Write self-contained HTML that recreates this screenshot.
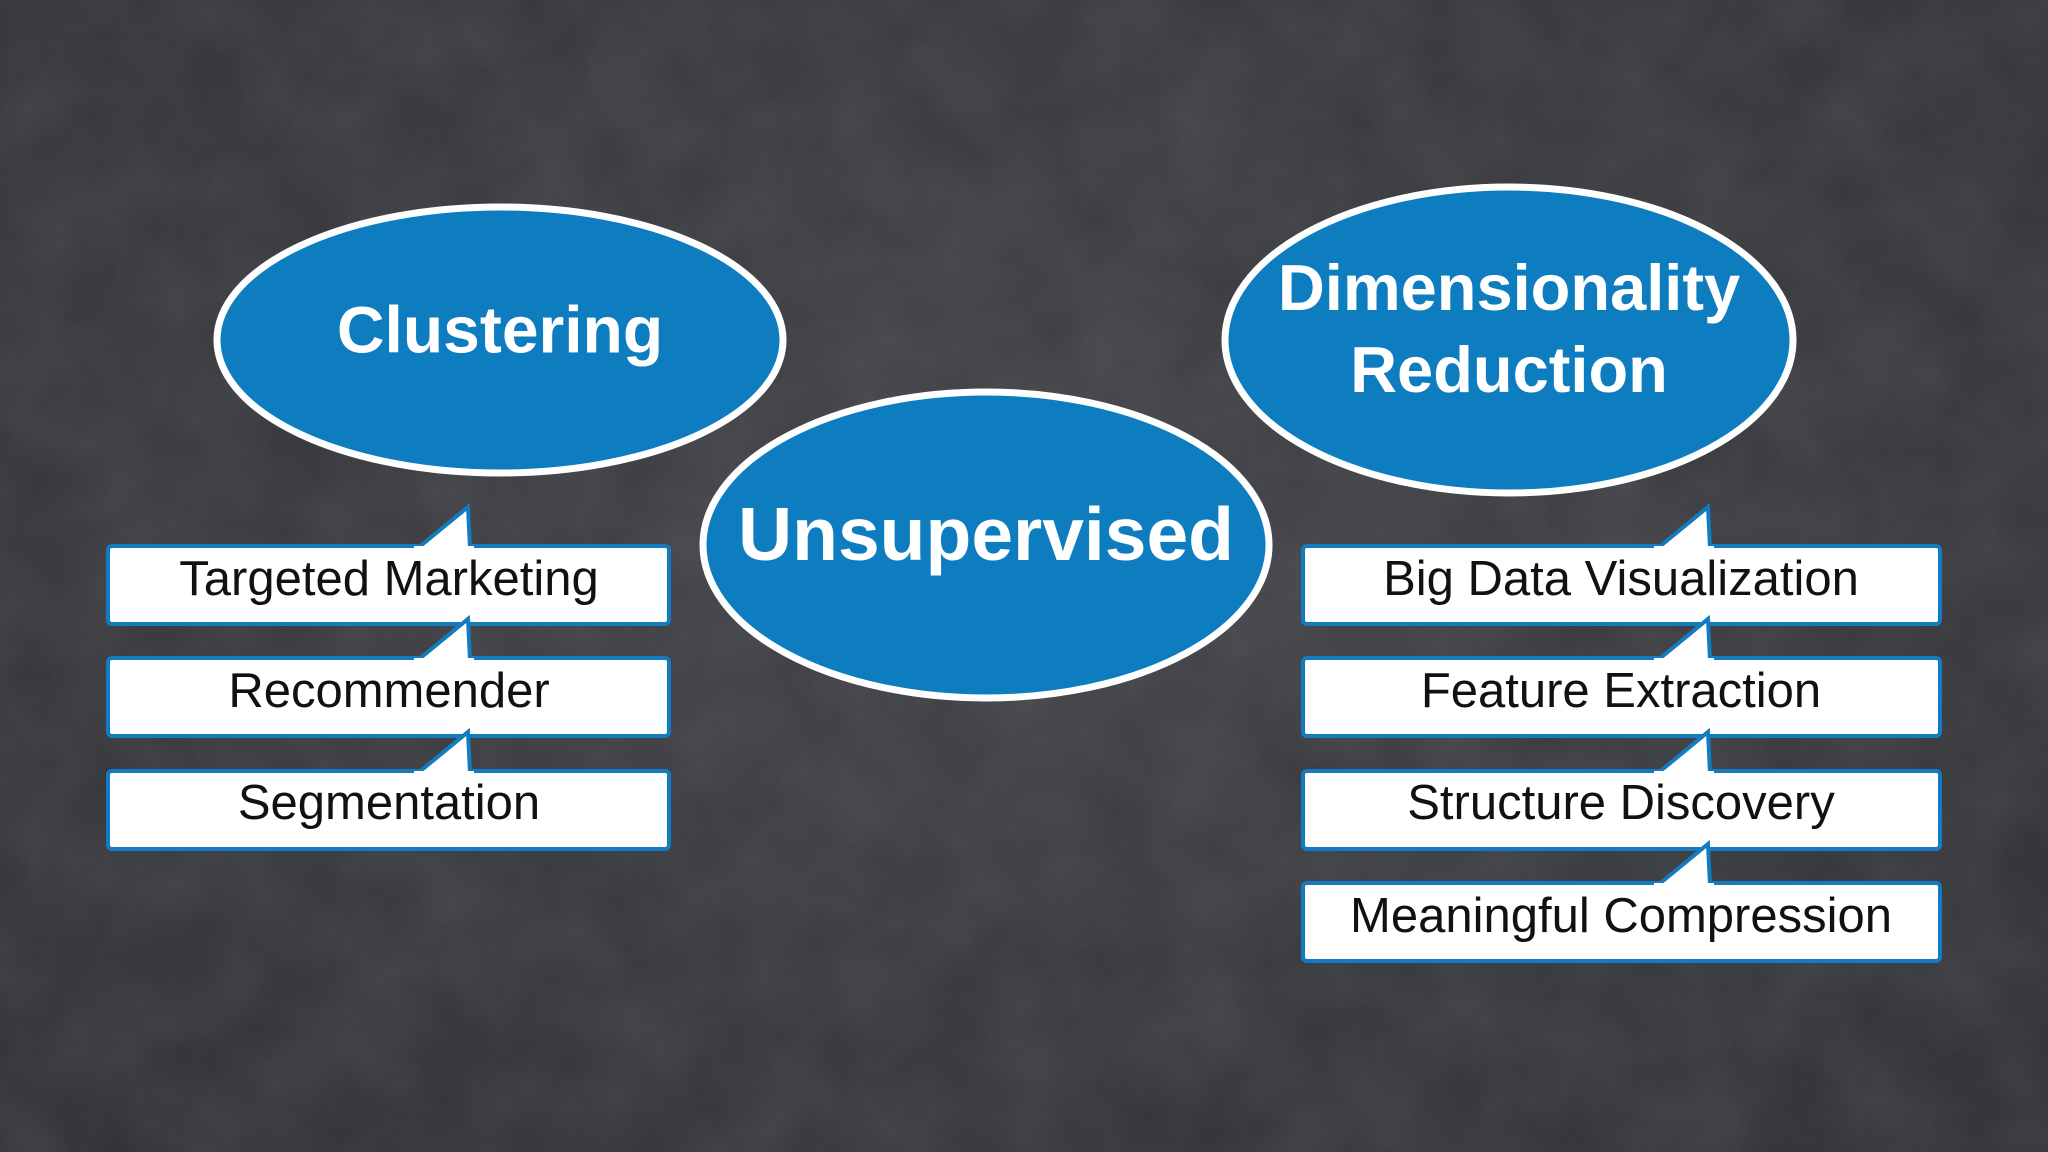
<!DOCTYPE html>
<html><head><meta charset="utf-8"><style>
html,body{margin:0;padding:0;width:2048px;height:1152px;overflow:hidden;background:#38393d}
svg{display:block}
text{font-family:"Liberation Sans",sans-serif}
</style></head><body>
<svg width="2048" height="1152" viewBox="0 0 2048 1152" xmlns="http://www.w3.org/2000/svg">
<defs>
<radialGradient id="bg" cx="50%" cy="45%" r="75%">
<stop offset="0" stop-color="#414246"/><stop offset="1" stop-color="#2e2f33"/>
</radialGradient>
<filter id="n"><feTurbulence type="fractalNoise" baseFrequency="0.012" numOctaves="4" seed="3"/><feColorMatrix values="0 0 0 0 0.45 0 0 0 0 0.45 0 0 0 0 0.47 0 0 0 0.15 0"/></filter>
</defs>
<rect width="2048" height="1152" fill="url(#bg)"/>
<rect width="2048" height="1152" filter="url(#n)"/>

<ellipse cx="500" cy="340" rx="283" ry="133" fill="#0e7dc0" stroke="#fff" stroke-width="7"/>
<ellipse cx="1509" cy="340" rx="284" ry="153" fill="#0e7dc0" stroke="#fff" stroke-width="7"/>
<ellipse cx="986" cy="545" rx="283" ry="153" fill="#0e7dc0" stroke="#fff" stroke-width="7"/>
<text x="500" y="335" font-size="66" font-weight="bold" fill="#fff" text-anchor="middle" dominant-baseline="middle">Clustering</text>
<text x="1509" y="293" font-size="65" font-weight="bold" fill="#fff" text-anchor="middle" dominant-baseline="middle">Dimensionality</text>
<text x="1509" y="375" font-size="65" font-weight="bold" fill="#fff" text-anchor="middle" dominant-baseline="middle">Reduction</text>
<text x="986" y="540" font-size="75" font-weight="bold" fill="#fff" text-anchor="middle" dominant-baseline="middle">Unsupervised</text>

<g font-size="49" text-anchor="middle" fill="#111">
<g>
<rect x="108" y="546" width="561" height="78" rx="4" fill="#fff" stroke="#137bbf" stroke-width="4"/>
<path d="M418 548 L468 507 L470 548" fill="#fff" stroke="#137bbf" stroke-width="4"/><rect x="414" y="546" width="60" height="6" fill="#fff"/>
<text x="389" y="595">Targeted Marketing</text>
<rect x="108" y="658" width="561" height="78" rx="4" fill="#fff" stroke="#137bbf" stroke-width="4"/>
<path d="M418 660 L468 619 L470 660" fill="#fff" stroke="#137bbf" stroke-width="4"/><rect x="414" y="658" width="60" height="6" fill="#fff"/>
<text x="389" y="707">Recommender</text>
<rect x="108" y="771" width="561" height="78" rx="4" fill="#fff" stroke="#137bbf" stroke-width="4"/>
<path d="M418 773 L468 732 L470 773" fill="#fff" stroke="#137bbf" stroke-width="4"/><rect x="414" y="771" width="60" height="6" fill="#fff"/>
<text x="389" y="819">Segmentation</text>
</g>
<g>
<rect x="1303" y="546" width="637" height="78" rx="4" fill="#fff" stroke="#137bbf" stroke-width="4"/>
<path d="M1658 548 L1708 507 L1710 548" fill="#fff" stroke="#137bbf" stroke-width="4"/><rect x="1654" y="546" width="60" height="6" fill="#fff"/>
<text x="1621" y="595">Big Data Visualization</text>
<rect x="1303" y="658" width="637" height="78" rx="4" fill="#fff" stroke="#137bbf" stroke-width="4"/>
<path d="M1658 660 L1708 619 L1710 660" fill="#fff" stroke="#137bbf" stroke-width="4"/><rect x="1654" y="658" width="60" height="6" fill="#fff"/>
<text x="1621" y="707">Feature Extraction</text>
<rect x="1303" y="771" width="637" height="78" rx="4" fill="#fff" stroke="#137bbf" stroke-width="4"/>
<path d="M1658 773 L1708 732 L1710 773" fill="#fff" stroke="#137bbf" stroke-width="4"/><rect x="1654" y="771" width="60" height="6" fill="#fff"/>
<text x="1621" y="819">Structure Discovery</text>
<rect x="1303" y="883" width="637" height="78" rx="4" fill="#fff" stroke="#137bbf" stroke-width="4"/>
<path d="M1658 885 L1708 844 L1710 885" fill="#fff" stroke="#137bbf" stroke-width="4"/><rect x="1654" y="883" width="60" height="6" fill="#fff"/>
<text x="1621" y="932">Meaningful Compression</text>
</g>
</g>
</svg>
</body></html>
